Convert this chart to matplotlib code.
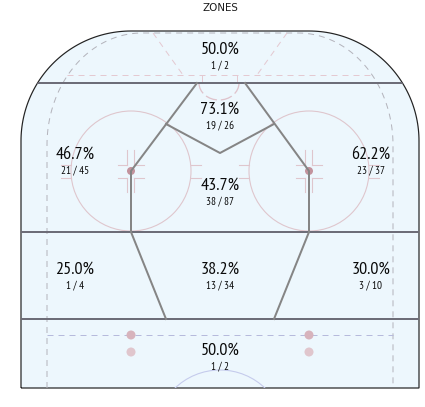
import matplotlib
matplotlib.use('Agg')
import matplotlib.pyplot as plt
from matplotlib.patches import Circle, Arc, PathPatch
from matplotlib.path import Path
import numpy as np

# ---- data ----
zones = ['Behind Net', 'Slot', 'Left Circle', 'Right Circle', 'High Slot',
         'Left Point', 'Center Point', 'Right Point', 'Neutral Zone']
pct = [50.0, 73.1, 46.7, 62.2, 43.7, 25.0, 38.2, 30.0, 50.0]
made = [1, 19, 21, 23, 38, 1, 13, 3, 1]
attempts = [2, 26, 45, 37, 87, 4, 34, 10, 2]
title = 'ZONES'

# ---- layout (pixel space of the rink drawing) ----
label_x = [220, 220, 75, 371, 220, 75, 220, 371, 220]
label_y = [50, 110, 155, 155, 186, 270, 270, 270, 351]

PX = 0.72  # 1 px in points at 100 dpi
FONT = ['PT Sans Narrow', 'DejaVu Sans']

fig = plt.figure(figsize=(4.25, 4.07), dpi=100)
ax = fig.add_axes([0, 0, 1, 1])
ax.set_xlim(0, 425)
ax.set_ylim(407, 0)
ax.axis('off')

L, R, T, B, RAD = 21, 419, 31, 388, 110


def arc_pts(cx, cy, rx, ry, a0, a1, n=60):
    t = np.linspace(np.radians(a0), np.radians(a1), n)
    return np.column_stack([cx + rx * np.cos(t), cy - ry * np.sin(t)])


# rink boards
pts = np.vstack([[[L, B]], [[L, T + RAD]],
                 arc_pts(L + RAD, T + RAD, RAD, RAD, 180, 90),
                 arc_pts(R - RAD, T + RAD, RAD, RAD, 90, 0),
                 [[R, B]], [[L, B]]])
rink = PathPatch(Path(pts), facecolor='#edf7fd', edgecolor='#222222', lw=1.2 * PX, zorder=1)
ax.add_patch(rink)


def clip(a):
    a.set_clip_path(rink)
    return a


# grey dashed inner boundary
dl, dr, dt, dc = 47, 393, 33, 145
pts = np.vstack([[[dl, B]], [[dl, dc]],
                 arc_pts(dl + 95, dc, 95, dc - dt, 180, 90),
                 arc_pts(dr - 95, dc, 95, dc - dt, 90, 0),
                 [[dr, B]]])
ax.plot(pts[:, 0], pts[:, 1], color='#b4b4bc', lw=PX, ls=(0, (6, 5)), zorder=2)

# pink dashed lines behind the net
pink = '#e4c9d1'
ax.plot([67, 373], [75, 75], color=pink, lw=PX, ls=(0, (6, 5)), zorder=2)
ax.plot([153, 183], [33, 75], color=pink, lw=PX, ls=(0, (6, 5)), zorder=2)
ax.plot([287, 257], [33, 75], color=pink, lw=PX, ls=(0, (6, 5)), zorder=2)
ax.plot([202, 202], [75, 83], color=pink, lw=PX, zorder=2)
ax.plot([237, 237], [75, 83], color=pink, lw=PX, zorder=2)
# crease
ax.add_patch(Arc((219, 83), 40, 34, theta1=0, theta2=180, color='#dfc3cc', lw=1.3 * PX,
                 ls=(0, (9, 3)), zorder=2))

# faceoff circles, dots and hash marks
circ_col = '#dfc6cd'
for cx in (131, 309):
    cy = 171
    ax.add_patch(Circle((cx, cy), 60, fill=False, ec=circ_col, lw=1.1 * PX, zorder=2))
    ax.add_patch(Circle((cx, cy), 4, fc='#c3939d', ec='none', zorder=3))
    for sx in (-1, 1):
        for sy in (-1, 1):
            ax.plot([cx + sx * 3.5, cx + sx * 3.5], [cy + sy * 6.5, cy + sy * 21],
                    color=circ_col, lw=1.1 * PX, zorder=2)
            ax.plot([cx + sx * 3.5, cx + sx * 13], [cy + sy * 6.5, cy + sy * 6.5],
                    color=circ_col, lw=1.1 * PX, zorder=2)
            ax.plot([cx + sx * 60, cx + sx * 70], [cy + sy * 6.5, cy + sy * 6.5],
                    color=circ_col, lw=1.1 * PX, zorder=2)

# neutral-zone marks
ax.plot([47, 393], [335, 335], color='#b6badc', lw=PX, ls=(0, (6, 5)), zorder=2)
for cx in (131, 309):
    ax.add_patch(Circle((cx, 335), 4.5, fc='#d7b3bc', ec='none', zorder=3))
    ax.add_patch(Circle((cx, 352), 4.5, fc='#e0c6cd', ec='none', zorder=3))
clip(ax.add_patch(Circle((220, 435), 65, fill=False, ec='#c5cbec', lw=1.1 * PX, zorder=2)))

# zone borders
hcol = '#6d6d78'
for y in (83, 232, 319):
    clip(ax.plot([L - 5, R + 5], [y, y], color=hcol, lw=2 * PX, zorder=4)[0])
zcol = '#858585'
ax.plot([197, 131, 131, 166], [83, 171, 232, 319], color=zcol, lw=2 * PX, zorder=4,
        solid_joinstyle='round')
ax.plot([245, 309, 309, 274], [83, 171, 232, 319], color=zcol, lw=2 * PX, zorder=4,
        solid_joinstyle='round')
ax.plot([166, 220, 274], [124, 153, 124], color=zcol, lw=2 * PX, zorder=4,
        solid_joinstyle='round')

# zone labels
for x, y, p, m, a in zip(label_x, label_y, pct, made, attempts):
    ax.text(x, y, f'{p:.1f}%', fontsize=13, family=FONT, color='#0a0a0a',
            ha='center', va='center', zorder=5)
    ax.text(x, y + 16.5, f'{m} / {a}', fontsize=8, family=FONT, color='#0a0a0a',
            ha='center', va='center', zorder=5)

ax.text(220, 8, title, fontsize=7.4, family='DejaVu Sans', color='#1a1a1a',
        ha='center', va='center')

fig.savefig('out.png', dpi=100)
